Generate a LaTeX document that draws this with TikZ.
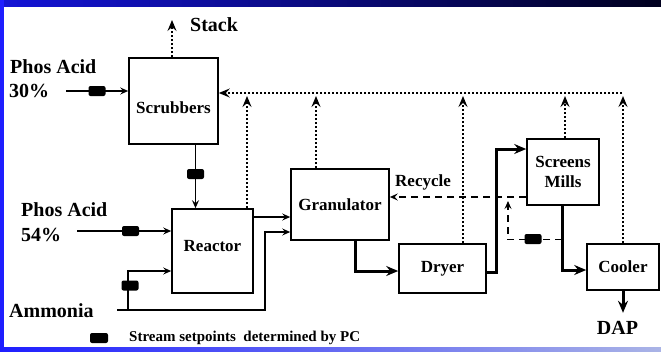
\documentclass[tikz,border=0pt]{standalone}
\usepackage{fontspec}
\setmainfont{Liberation Serif}
\usetikzlibrary{arrows.meta,calc}
\definecolor{bandblue}{RGB}{20,20,215}
\definecolor{banddark}{RGB}{0,0,30}
\definecolor{sideblue}{RGB}{30,30,255}
\definecolor{bottomlight}{RGB}{170,180,230}
\begin{document}
\begin{tikzpicture}[x=1pt,y=-1pt,
  box/.style={draw, line width=1.6pt, inner sep=0pt},
  boxtxt/.style={font=\fontsize{17}{20}\selectfont\bfseries},
  outtxt/.style={font=\fontsize{20}{24}\selectfont\bfseries, inner sep=0pt},
  flow/.style={line width=1.3pt, -{Stealth[length=8pt,width=7pt,inset=3pt]}},
  thickflow/.style={line width=3pt, -{Stealth[length=12pt,width=10pt,inset=4pt]}},
  dotflow/.style={line width=2.8pt, dash pattern=on 2.4pt off 1.6pt, -{Stealth[length=11pt,width=9pt,inset=4pt]}},
  dashflow/.style={line width=1.3pt, dash pattern=on 7pt off 5pt, -{Stealth[length=8pt,width=7pt,inset=3pt]}},
  setpt/.style={fill=black, rounded corners=2pt, minimum width=17pt, minimum height=10pt, inner sep=0pt}
]
\useasboundingbox (0,0) rectangle (661,351);
\fill[white] (0,0) rectangle (661,351);
\shade[left color=bandblue, right color=banddark] (0,0) rectangle (661,6);
\fill[sideblue] (0,0) rectangle (4,351);
\shade[left color=sideblue, right color=bottomlight] (0,347) rectangle (661,351);

% boxes
\node[box, minimum width=89pt, minimum height=86pt] (scrub) at (173.5,101) {};
\node[boxtxt] (scrubt) at ([yshift=-7pt]scrub.center) {Scrubbers};
\node[box, minimum width=81pt, minimum height=84pt] (reac) at (212.5,251) {};
\node[boxtxt] (react) at ([yshift=5pt]reac.center) {Reactor};
\node[box, boxtxt, minimum width=98pt, minimum height=71pt] (gran) at (340,204.5) {Granulator};
\node[box, boxtxt, minimum width=87pt, minimum height=49pt] (dry) at (442.5,268.5) {Dryer};
\node[box, boxtxt, minimum width=72pt, minimum height=66pt, align=center] (scr) at (563,172) {Screens\\Mills};
\node[box, boxtxt, minimum width=72pt, minimum height=46pt] (cool) at (623,267) {Cooler};

% outside labels
\node[outtxt, anchor=west] (stackt) at (190,25) {Stack};
\node[outtxt, anchor=west] (pa30a) at (10,67) {Phos Acid};
\node[outtxt, anchor=west] (pa30b) at (9,91) {30\%};
\node[outtxt, anchor=west] (pa54a) at (21,210) {Phos Acid};
\node[outtxt, anchor=west] (pa54b) at (21,235) {54\%};
\node[outtxt, anchor=west] (amt) at (9,311) {Ammonia};
\node[boxtxt, anchor=west, inner sep=0pt] (rect) at (395,182) {Recycle};
\node[outtxt] (dap) at (617.5,328) {DAP};

% phos acid 30%
\coordinate (pa30) at (66,91);
\draw[flow] (pa30) -- (pa30 -| scrub.west);
\node[setpt] (sp1) at (97,91) {};

% stack
\coordinate (stk) at (172,20);
\draw[dotflow] (stk |- scrub.north) -- (stk);

% dotted header
\coordinate (hdr) at (622,93);
\draw[dotflow] (hdr) -- (hdr -| scrub.east);
\coordinate (h1) at (247,96);
\coordinate (h2) at (316,96);
\coordinate (h3) at (463,96);
\coordinate (h4) at (565,96);
\coordinate (h5) at (623,96);
\draw[dotflow] (h1 |- reac.north) -- (h1);
\draw[dotflow] (h2 |- gran.north) -- (h2);
\draw[dotflow] (h3 |- dry.north) -- (h3);
\draw[dotflow] (h4 |- scr.north) -- (h4);
\draw[dotflow] (h5 |- cool.north) -- (h5);

% scrubbers -> reactor
\draw[flow] ([xshift=22pt]scrub.south) -- ([xshift=22pt]scrub.south |- reac.north);
\node[setpt] (sp2) at (195.5,174) {};

% phos acid 54%
\coordinate (pa54) at (77,231);
\draw[flow] (pa54) -- (pa54 -| reac.west);
\node[setpt] (sp3) at (130.5,231) {};

% ammonia
\coordinate (am) at (117,310);
\coordinate (amc) at (265,310);
\draw[flow] (am) -- (amc) |- ([yshift=-1pt]pa54 -| gran.west);
\coordinate (amb) at (128,310);
\draw[flow] (amb) |- ([yshift=-20pt]reac.west);
\node[setpt] (sp4) at (130,285.5) {};

% reactor -> granulator
\draw[flow] ([yshift=34pt]reac.east) -- ([yshift=34pt]reac.east -| gran.west);

% granulator -> dryer
\draw[thickflow] ([xshift=15pt]gran.south) |- ([yshift=-2.5pt]dry.west);

% dryer -> screens
\draw[thickflow] ([yshift=-3.5pt]dry.east) -- ++(10,0) |- ([yshift=23pt]scr.west);

% screens -> cooler
\draw[thickflow] ([xshift=-1pt]scr.south) |- ([yshift=-3pt]cool.west);

% cooler -> DAP
\draw[thickflow] (cool.south) -- ++(0,22);

% recycle
\draw[dashflow] ([yshift=-25pt]scr.west) -- ([yshift=-25pt]scr.west -| gran.east);
\coordinate (rb) at (508,201);
\draw[dashflow] ([xshift=-1pt,yshift=-34pt]scr.south) -| (rb);
\node[setpt] (sp5) at (533,239) {};

% legend
\node[setpt, minimum width=18pt] (legbox) at (99,338) {};
\node[anchor=west, inner sep=0pt, font=\fontsize{15}{17}\selectfont\bfseries] (legt) at (129,338) {Stream setpoints\ \ determined by PC};
\end{tikzpicture}
\end{document}
